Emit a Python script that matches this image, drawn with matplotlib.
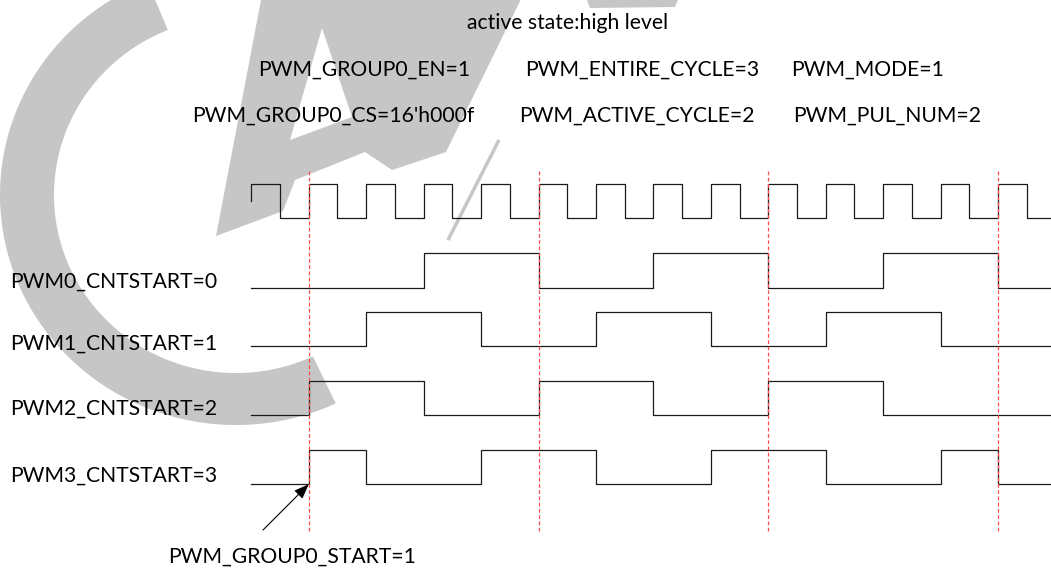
import numpy as np
import matplotlib
matplotlib.use("Agg")
import matplotlib.pyplot as plt
from matplotlib.patches import Polygon

# --- data -------------------------------------------------------------
# clock, one level per half period, starting one period before the start pulse
clock_halves = [1, 0, 1, 0, 1, 0, 1, 0, 1, 0, 1, 0, 1, 0,
                1, 0, 1, 0, 1, 0, 1, 0, 1, 0, 1, 0, 1, 0]

# PWM outputs, one level per clock period (periods -1 .. 12)
pwm_names = ["PWM0_CNTSTART=0", "PWM1_CNTSTART=1", "PWM2_CNTSTART=2", "PWM3_CNTSTART=3"]
pwm0 = [0, 0, 0, 1, 1, 0, 0, 1, 1, 0, 0, 1, 1, 0]
pwm1 = [0, 0, 1, 1, 0, 0, 1, 1, 0, 0, 1, 1, 0, 0]
pwm2 = [0, 1, 1, 0, 0, 1, 1, 0, 0, 1, 1, 0, 0, 0]
pwm3 = [0, 1, 0, 0, 1, 1, 0, 0, 1, 1, 0, 0, 1, 0]

# group start marks (clock periods)
sync_marks = [0, 4, 8, 12]

title = "active state:high level"
params_row1 = ["PWM_GROUP0_EN=1", "PWM_ENTIRE_CYCLE=3", "PWM_MODE=1"]
params_row2 = ["PWM_GROUP0_CS=16'h000f", "PWM_ACTIVE_CYCLE=2", "PWM_PUL_NUM=2"]
start_label = "PWM_GROUP0_START=1"

# --- layout (pixels) ----------------------------------------------------
W, H = 1051, 568
X0, PERIOD = 308.7, 57.45          # pixel of first start edge, clock period width
def tx(px):
    return (px - X0) / PERIOD

CLK_HI, CLK_LO, CLK_MID = 183.5, 218.3, 201
ROW_LO = [287.7, 346.0, 415.3, 484.3]
AMP = 34.5
LABEL_Y = [280, 342, 407, 474]
FS = 15.2
FONT = "Lato"
INK = "#1a1a1a"
WM = "#c6c6c6"


def wave(times, levels, lo, hi, t_end):
    xs, ys = [], []
    for i, lev in enumerate(levels):
        y = hi if lev else lo
        t1 = times[i + 1] if i + 1 < len(times) else t_end
        xs += [times[i], t1]
        ys += [y, y]
    return xs, ys


fig = plt.figure(figsize=(W / 100, H / 100), dpi=100)

# watermark layer in pixel coordinates
wm = fig.add_axes([0, 0, 1, 1], zorder=0)
wm.set_xlim(0, W)
wm.set_ylim(H, 0)
wm.axis("off")
th = np.radians(np.linspace(112, 295, 200))
outer = np.column_stack([236 + 236 * np.cos(th), 195 - 230 * np.sin(th)])
inner = np.column_stack([236 + 182 * np.cos(th), 195 - 178 * np.sin(th)])[::-1]
wm.add_patch(Polygon(np.vstack([outer, inner]), closed=True, fc=WM, ec="none"))
wm.add_patch(Polygon([(216, 236), (262, -5), (523, -5), (446, 152), (392, 170),
                      (365, 152), (295, 180), (283, 211)], closed=True, fc=WM, ec="none"))
wm.add_patch(Polygon([(290, 140), (322, 28), (352, 117)], closed=True, fc="white", ec="none"))
wm.add_patch(Polygon([(585, -5), (680, -5), (675, 7), (590, 8)], closed=True, fc=WM, ec="none"))
wm.plot([499, 448], [140, 240], color=WM, lw=2.5, solid_capstyle="butt")

# timing diagram
ax = fig.add_axes([0, 0, 1, 1], zorder=1)
ax.patch.set_alpha(0)
ax.set_xlim(tx(0), tx(W))
ax.set_ylim(H, 0)
ax.axis("off")
t_end = tx(W)

ct = np.arange(-1, 13, 0.5)
xs, ys = wave(ct, clock_halves, CLK_LO, CLK_HI, t_end)
ax.plot([-1] + xs, [CLK_MID] + ys, color=INK, lw=0.9)

pt = np.arange(-1, 13)
for lo, lev in zip(ROW_LO, [pwm0, pwm1, pwm2, pwm3]):
    xs, ys = wave(pt, lev, lo, lo - AMP, t_end)
    ax.plot(xs, ys, color=INK, lw=0.9)

ax.vlines(sync_marks, 171, 531, colors="#ff4d4d", linestyles=(0, (3, 2)), lw=0.9)

ax.annotate("", xy=(sync_marks[0], ROW_LO[3]), xytext=(tx(263), 530),
            arrowprops=dict(arrowstyle="-|>,head_length=0.9,head_width=0.35",
                            color="black", lw=0.8, shrinkA=0, shrinkB=0))

# texts
tkw = dict(fontsize=FS, family=FONT, color="black", va="baseline")
ax.text(tx(568), 21 + 8, title, ha="center", **tkw)
for s, cx in zip(params_row1, [364, 642, 868]):
    ax.text(tx(cx), 68 + 8, s, ha="center", **tkw)
for s, cx in zip(params_row2, [333, 637, 887]):
    ax.text(tx(cx), 114 + 8, s, ha="center", **tkw)
for s, y in zip(pwm_names, LABEL_Y):
    ax.text(tx(10), y + 8, s, ha="left", **tkw)
ax.text(tx(292), 555 + 8, start_label, ha="center", **tkw)

fig.savefig("out.png", dpi=100)
